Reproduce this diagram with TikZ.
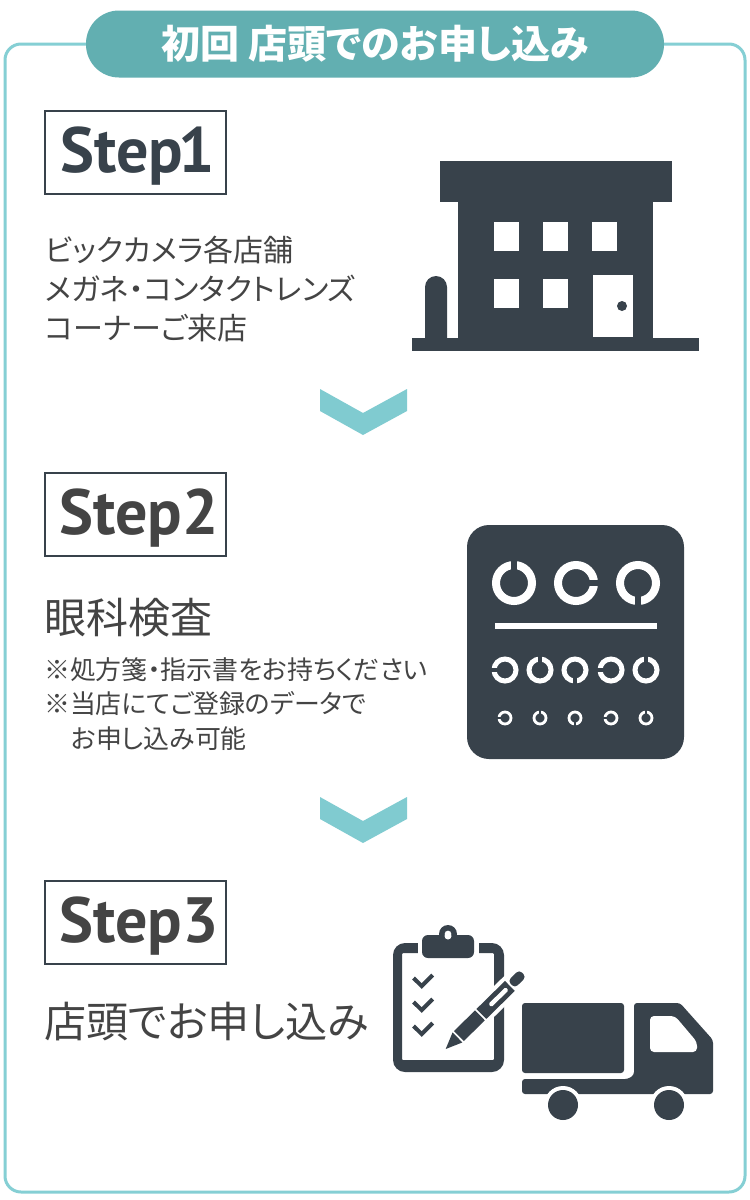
\documentclass[tikz,border=0pt]{standalone}
\usepackage{fontspec}
\setmainfont[RawFeature={+palt}]{Noto Sans CJK JP}
\newfontfamily\stepfont{PT Sans}
\usetikzlibrary{positioning}
\definecolor{FlowFrame}{RGB}{133, 207, 212}
\definecolor{FlowTitle}{RGB}{98, 175, 177}
\definecolor{FlowArrow}{RGB}{128, 203, 208}
\definecolor{IconDark}{RGB}{56, 66, 75}
\definecolor{FlowText}{RGB}{68, 68, 68}
\tikzset{
  stepbox/.style={draw=IconDark, line width=2pt, fill=white, minimum width=181pt, minimum height=83pt, inner sep=0pt, text=#1},
  steplabel/.style={font=\fontsize{64}{64}\selectfont\stepfont\bfseries, text height=40pt, text depth=0pt},
  bodytext/.style={anchor=west, align=left, inner sep=0pt, text=FlowText},
  chevron/.style={fill=FlowArrow},
  icon/.style={fill=IconDark}
}
% one ring of the eye chart: x, y, radius, thickness, gap direction
\newcommand{\eyering}[5]{
  \draw[white, line width=#4pt] (#1,#2) circle[radius=#3];
  \fill[IconDark, shift={(#1,#2)}, rotate=#5] (0,-#4*0.42) rectangle (#3+#4,#4*0.42);
}
\begin{document}
\begin{tikzpicture}[x=1pt, y=-1pt]
    \path[use as bounding box, fill=white] (0,0) rectangle (750,1200);
    % frame and title
    \draw[FlowFrame, line width=3pt, rounded corners=16pt] (5,44) rectangle (745,1192);
    \node[fill=FlowTitle, rounded corners=33pt, minimum width=578pt, minimum height=67pt, inner sep=0pt, text=white, font=\fontsize{39}{39}\selectfont\bfseries] (title) at (375,44) {初回 店頭でのお申し込み};

    % step 1
    \node[stepbox=IconDark, steplabel] (step1) at (135,152) {\hspace*{5pt}Step\kern-5pt 1};
    \node[bodytext, font=\fontsize{30}{39}\selectfont] (step1text) at (45,289) {ビックカメラ各店舗\\メガネ・コンタクトレンズ\\コーナーご来店};

    % building
    \fill[icon] (440,161) rectangle (672,202);
    \fill[icon] (458,202) rectangle (653,338);
    \fill[icon] (412,338) rectangle (699,351);
    \fill[icon] (425,338) -- (425,287) arc[start angle=180, end angle=360, radius=11] -- (447,338) -- cycle;
    \foreach \wx/\wy in {494/222, 543/222, 592/222, 494/279, 543/279}
      \fill[white] (\wx,\wy) rectangle ++(25,29);
    \fill[white] (593,275) rectangle (633,337);
    \fill[icon] (622,306) circle[radius=5];

    \fill[chevron] (320,389) -- (363,413) -- (407,389) -- (407,411) -- (363,435) -- (320,411) -- cycle;

    % step 2
    \node[stepbox=FlowText, steplabel] (step2) at (135,514.5) {\hspace*{8pt}Step2};
    \node[bodytext, font=\fontsize{42}{42}\selectfont] (step2text) at (44,618) {眼科検査};
    \node[bodytext, font=\fontsize{25.9}{34.5}\selectfont] (step2note) at (44,704) {※処方箋・指示書をお持ちください\\※当店にてご登録のデータで\\\hspace{27pt}お申し込み可能};

    % eye chart
    \fill[icon, rounded corners=22pt] (467,525) rectangle (684,759);
    \eyering{514}{583}{18}{8}{90}
    \eyering{576}{583}{18}{8}{0}
    \eyering{638}{583}{18}{8}{-90}
    \fill[white] (495,623) rectangle (657,629);
    \foreach \rx/\rdir in {505/180, 540/90, 575/-90, 611/180, 646/90}{
      \eyering{\rx}{670}{11}{5}{\rdir}
      \eyering{\rx}{718}{6}{2.8}{\rdir}
    }

    \fill[chevron] (320,797) -- (363,821) -- (407,797) -- (407,819) -- (363,843) -- (320,819) -- cycle;

    % step 3
    \node[stepbox=FlowText, steplabel] (step3) at (135,922.5) {\hspace*{8pt}Step3};
    \node[bodytext, font=\fontsize{42.1}{42.1}\selectfont] (step3text) at (44,1022) {店頭でお申し込み};

    % clipboard
    \fill[icon, even odd rule, rounded corners=12pt] (393,943) rectangle (504,1072) (402,953) [rounded corners=1pt] rectangle (494,1060);
    \fill[white] (418,940) rectangle (479,954);
    \fill[icon, even odd rule] (448,934) circle[radius=9] (448,934) circle[radius=3.5];
    \fill[icon, rounded corners=6pt] (422,935) rectangle (474,958);
    \fill[white] (448,936) circle[radius=3.5];
    \foreach \cy in {980, 1004, 1028}
      \draw[IconDark, line width=4pt] (413.5,\cy-2) -- (421.7,\cy+6) -- (432.7,\cy-5);

    % pen
    \begin{scope}[shift={(445.7,1049)}, rotate=44.5]
      \fill[white] (14,-11) rectangle (94,11);
      \fill[white] (94,-9) rectangle (112,9);
      \fill[icon] (0,0) -- (16.5,-7) -- (16.5,7) -- cycle;
      \fill[icon] (18.5,-7) rectangle (48,7);
      \fill[icon] (50,-7) rectangle (90,7);
      \fill[white, rounded corners=1.5pt] (62,-2.2) rectangle (86,2.2);
      \fill[icon, rounded corners=4pt] (92,-5) -- (92,5) -- (108,5) -- (108,-5) -- cycle;
    \end{scope}

    % truck
    \fill[icon, rounded corners=3pt] (522,1003) rectangle (624,1073);
    \fill[icon, rounded corners=3pt] (522,1079) -- (628,1079) -- (634,1075) -- (634,1003) -- (680,1003) -- (713,1040) -- (713,1094) -- (522,1094) -- cycle;
    \fill[white, rounded corners=4pt] (650,1016) -- (675,1016) -- (697,1042) -- (697,1052) -- (650,1052) -- cycle;
    \foreach \wheelx in {563, 669}{
      \fill[white] (\wheelx,1105) circle[radius=19];
      \fill[icon] (\wheelx,1105) circle[radius=15];
    }
  \end{tikzpicture}
\end{document}
